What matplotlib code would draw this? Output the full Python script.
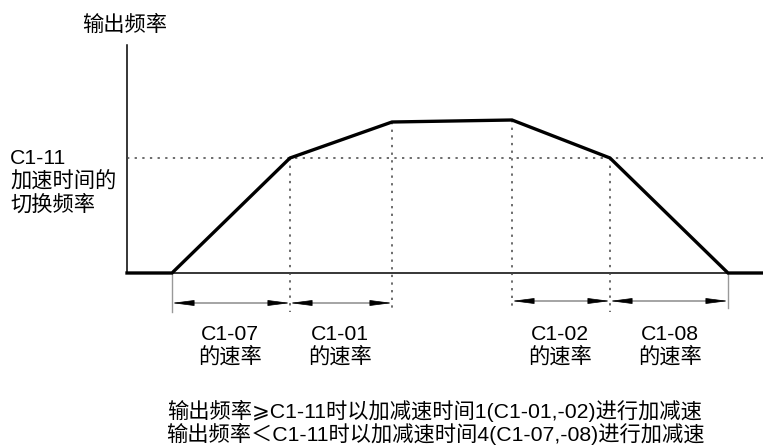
import matplotlib.pyplot as plt

plt.rcParams['font.family'] = ['Liberation Sans', 'Noto Sans CJK SC', 'DejaVu Sans']

# output frequency profile (time, freq), arbitrary units
t_prof = [0, 45, 163, 265, 385, 483, 601, 636]
f_prof = [0, 0, 115, 151, 153, 115, 0, 0]
f_switch = 115

# dotted markers at the breakpoints
t_marks = [163, 265, 385, 483]
f_marks = [115, 151, 153, 115]
marks_bottom = [-39, -35, -35, -39]

# start / end of ramp (thin solid guides)
t_edges = [45, 601]
edges_bottom = [-39, -35]

# rate spans
spans = [(45, 163), (163, 265), (385, 483), (483, 601)]
span_y = [-30, -30, -28, -28]
span_labels = ['C1-07\n的速率', 'C1-01\n的速率', 'C1-02\n的速率', 'C1-08\n的速率']
label_x = [103, 213, 433, 543]

note1 = '输出频率⩾C1-11时以加减速时间1(C1-01,-02)进行加减速'
note2 = '输出频率＜C1-11时以加减速时间4(C1-07,-08)进行加减速'

fig = plt.figure(figsize=(7.63, 4.46), dpi=100)
ax = fig.add_axes([0, 0, 1, 1])
ax.set_xlim(-127, 636)
ax.set_ylim(-173, 273)
ax.axis('off')

fs = 15.3

# axes
ax.plot([0, 0], [0, 228], color='black', lw=1.1)
ax.plot([0, 636], [0, 0], color='black', lw=1.1)

# switch frequency line
ax.plot([0, 636], [f_switch, f_switch], color='#444444', lw=1.1,
        linestyle=(0, (1.5, 3.5)))

for t, f, b in zip(t_marks, f_marks, marks_bottom):
    ax.plot([t, t], [f, b], color='#444444', lw=1.1, linestyle=(0, (1.5, 3.5)))

for t, b in zip(t_edges, edges_bottom):
    ax.plot([t, t], [0, b], color='#999999', lw=1.0)

# profile
ax.plot(t_prof, f_prof, color='black', lw=2.4, solid_joinstyle='miter')

for (a, b), y in zip(spans, span_y):
    ax.annotate('', xy=(b, y), xytext=(a, y),
                arrowprops=dict(arrowstyle='<|-|>,head_length=1.0,head_width=0.13',
                                mutation_scale=14, color='black', lw=0.5,
                                shrinkA=0, shrinkB=0))

for x, s in zip(label_x, span_labels):
    ax.text(x, -73, s, ha='center', va='center', fontsize=fs, linespacing=1.1)

ax.text(-45, 248, '输出频率', ha='left', va='center', fontsize=fs)
ax.text(-117, 91, 'C1-11\n加速时间的\n切换频率', ha='left', va='center',
        fontsize=fs, linespacing=1.2)

ax.text(308, -138, note1, ha='center', va='center', fontsize=fs)
ax.text(308, -161, note2, ha='center', va='center', fontsize=fs)

fig.savefig('out.png', dpi=100)
